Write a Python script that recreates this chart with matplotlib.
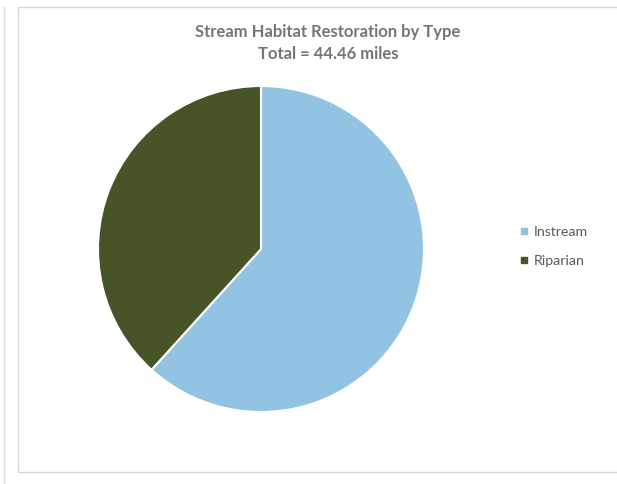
import numpy as np
import matplotlib.pyplot as plt
from matplotlib.patches import Rectangle
from matplotlib.lines import Line2D

# data
labels = ['Instream', 'Riparian']
miles = [27.44, 17.02]
colors = ['#93C3E2', '#465427']
total = 44.46

plt.rcParams['font.family'] = ['Lato', 'DejaVu Sans']

fig = plt.figure(figsize=(6.17, 4.85), dpi=100)
W, H = 617, 485

# chart frame
fig.patches.append(Rectangle((18 / W, 1 - 473 / H), 620 / W, 465 / H,
                             transform=fig.transFigure, fill=False,
                             edgecolor='#D9D9D9', linewidth=1))
fig.lines.append(Line2D([4 / W, 4 / W], [1 - 485 / H, 1 - 8 / H],
                        transform=fig.transFigure, color='#D9D9D9', linewidth=1))

# pie: center (261, 250), radius 163 px
cx, cy, r = 261, 250, 163
ax = fig.add_axes([(cx - r) / W, 1 - (cy + r) / H, 2 * r / W, 2 * r / H])
ax.pie(miles, colors=colors, startangle=90, counterclock=False,
       wedgeprops={'edgecolor': 'white', 'linewidth': 1.5}, radius=1)
ax.set_xlim(-1, 1)
ax.set_ylim(-1, 1)
ax.set_aspect('equal')
ax.axis('off')

fig.text(328 / W, 1 - 32 / H, 'Stream Habitat Restoration by Type',
         ha='center', va='center', fontsize=12, fontweight='bold', color='#767676')
fig.text(328 / W, 1 - 54 / H, 'Total = %.2f miles' % total,
         ha='center', va='center', fontsize=12, fontweight='bold', color='#767676')

# legend
handles = [Line2D([], [], marker='s', linestyle='', markersize=5,
                  markerfacecolor=c, markeredgecolor=c) for c in colors]
fig.legend(handles, labels, loc='center left', bbox_to_anchor=(504 / W, 1 - 247 / H),
           frameon=False, fontsize=10.2, labelcolor='#595959',
           handletextpad=0.2, labelspacing=1.2, handlelength=1.0)

fig.savefig('out.png', dpi=100, facecolor='white')
